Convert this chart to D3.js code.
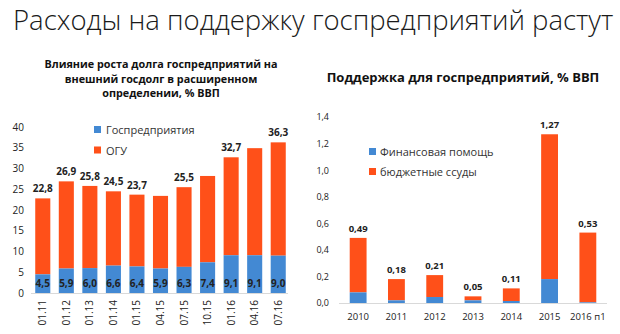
<!DOCTYPE html>
<html>
<head>
<meta charset="utf-8">
<script src="https://cdn.jsdelivr.net/npm/d3@7"></script>
<style>
  html, body { margin: 0; padding: 0; background: #fff; }
  svg { display: block; }
  text { font-family: "Open Sans", "Noto Sans", sans-serif; }
</style>
</head>
<body>
<svg id="chart" width="620" height="334"></svg>
<script>
// Left panel: external debt in the extended definition, % of GDP
const debtDates = ["01.11", "01.12", "01.13", "01.14", "01.15", "04.15", "07.15", "10.15", "01.16", "04.16", "07.16"];
const debtSoe   = [4.5, 5.9, 6.0, 6.6, 6.4, 5.9, 6.3, 7.4, 9.1, 9.1, 9.0];
const debtTotal = [22.8, 26.9, 25.8, 24.5, 23.7, 23.4, 25.5, 28.2, 32.7, 34.9, 36.3];
const debtTotalShown = [true, true, true, true, true, false, true, false, true, false, true];
const debtTicks = [0, 5, 10, 15, 20, 25, 30, 35, 40];

// Right panel: support for state enterprises, % of GDP
const supportYears = ["2010", "2011", "2012", "2013", "2014", "2015", "2016 п1"];
const supportAid   = [0.08, 0.02, 0.045, 0.02, 0.015, 0.18, 0.005];
const supportTotal = [0.49, 0.18, 0.21, 0.05, 0.11, 1.27, 0.53];
const supportTicks = [0, 0.2, 0.4, 0.6, 0.8, 1.0, 1.2, 1.4];

const BLUE = "#4389d3";
const ORANGE = "#ff5019";
const TEXT = "#222";
const fmt1 = d3.format(".1f");
const fmt2 = d3.format(".2f");
const comma = s => s.replace(".", ",");

const svg = d3.select("#chart");

svg.append("text")
  .attr("x", 13).attr("y", 30)
  .attr("font-size", 27.5).attr("font-weight", 300)
  .attr("fill", "#1a1a1a")
  .text("Расходы на поддержку госпредприятий растут");

// ---------- left panel ----------
{
  const x = d3.scaleBand().domain(debtDates).range([31, 290]).paddingInner(0.36).paddingOuter(0.18);
  const y = d3.scaleLinear().domain([0, 40]).range([293, 127]);
  const g = svg.append("g");

  ["Влияние роста долга госпредприятий на", "внешний госдолг в расширенном", "определении, % ВВП"]
    .forEach((t, i) => g.append("text")
      .attr("x", 161).attr("y", 68 + i * 14.5)
      .attr("text-anchor", "middle").attr("font-size", 10.8).attr("font-weight", 700)
      .attr("fill", "#111").text(t));

  const yAxis = d3.axisLeft(y).tickValues(debtTicks).tickSize(0).tickPadding(0).tickFormat(d => d);
  g.append("g").attr("transform", "translate(24,0)").call(yAxis)
    .call(a => a.select(".domain").remove())
    .call(a => a.selectAll("text").attr("font-size", 10).attr("fill", TEXT).attr("font-family", "Open Sans, sans-serif"));

  g.append("line").attr("x1", 31).attr("x2", 288).attr("y1", y(0) + 0.5).attr("y2", y(0) + 0.5)
    .attr("stroke", "#d9d9d9");

  g.selectAll(".ogu").data(debtDates).join("rect")
    .attr("x", d => x(d)).attr("width", x.bandwidth())
    .attr("y", (d, i) => y(debtTotal[i])).attr("height", (d, i) => y(debtSoe[i]) - y(debtTotal[i]))
    .attr("fill", ORANGE);
  g.selectAll(".soe").data(debtDates).join("rect")
    .attr("x", d => x(d)).attr("width", x.bandwidth())
    .attr("y", (d, i) => y(debtSoe[i])).attr("height", (d, i) => y(0) - y(debtSoe[i]))
    .attr("fill", BLUE);

  g.selectAll(".tot").data(debtDates.filter((d, i) => debtTotalShown[i])).join("text")
    .attr("x", d => x(d) + x.bandwidth() / 2)
    .attr("y", d => y(debtTotal[debtDates.indexOf(d)]) - 6)
    .attr("text-anchor", "middle").attr("font-size", 10).attr("font-weight", 700).attr("fill", TEXT)
    .text(d => comma(fmt1(debtTotal[debtDates.indexOf(d)])));

  g.selectAll(".soel").data(debtDates).join("text")
    .attr("x", d => x(d) + x.bandwidth() / 2)
    .attr("y", y(0) - 6)
    .attr("text-anchor", "middle").attr("font-size", 10).attr("font-weight", 700).attr("fill", TEXT)
    .text((d, i) => comma(fmt1(debtSoe[i])));

  g.selectAll(".cat").data(debtDates).join("text")
    .attr("transform", d => `translate(${x(d) + x.bandwidth() / 2 + 3.5},${y(0) + 7}) rotate(-90)`)
    .attr("text-anchor", "end").attr("font-size", 10).attr("fill", TEXT)
    .text(d => d);

  const leg = [["Госпредприятия", BLUE], ["ОГУ", ORANGE]];
  leg.forEach(([t, c], i) => {
    g.append("rect").attr("x", 94).attr("y", 126 + i * 20.5).attr("width", 7).attr("height", 7).attr("fill", c);
    g.append("text").attr("x", 106).attr("y", 134 + i * 20.5).attr("font-size", 11).attr("fill", "#333").text(t);
  });
}

// ---------- right panel ----------
{
  const x = d3.scaleBand().domain(supportYears).range([339, 607]).paddingInner(0.56).paddingOuter(0.28);
  const y = d3.scaleLinear().domain([0, 1.4]).range([303, 117]);
  const g = svg.append("g");

  g.append("text").attr("x", 463).attr("y", 82)
    .attr("text-anchor", "middle").attr("font-size", 13).attr("font-weight", 700)
    .attr("fill", "#111").text("Поддержка для госпредприятий, % ВВП");

  const yAxis = d3.axisLeft(y).tickValues(supportTicks).tickSize(0).tickPadding(0)
    .tickFormat(d => comma(fmt1(d)));
  g.append("g").attr("transform", "translate(329,0)").call(yAxis)
    .call(a => a.select(".domain").remove())
    .call(a => a.selectAll("text").attr("font-size", 9).attr("fill", TEXT).attr("font-family", "Open Sans, sans-serif"));

  g.append("line").attr("x1", 339).attr("x2", 607).attr("y1", y(0) + 0.5).attr("y2", y(0) + 0.5)
    .attr("stroke", "#d9d9d9");

  g.selectAll(".loan").data(supportYears).join("rect")
    .attr("x", d => x(d)).attr("width", x.bandwidth())
    .attr("y", (d, i) => y(supportTotal[i])).attr("height", (d, i) => y(supportAid[i]) - y(supportTotal[i]))
    .attr("fill", ORANGE);
  g.selectAll(".aid").data(supportYears).join("rect")
    .attr("x", d => x(d)).attr("width", x.bandwidth())
    .attr("y", (d, i) => y(supportAid[i])).attr("height", (d, i) => y(0) - y(supportAid[i]))
    .attr("fill", BLUE);

  g.selectAll(".tot").data(supportYears).join("text")
    .attr("x", d => x(d) + x.bandwidth() / 2)
    .attr("y", (d, i) => y(supportTotal[i]) - 6)
    .attr("text-anchor", "middle").attr("font-size", 9.5).attr("font-weight", 700).attr("fill", TEXT)
    .text((d, i) => comma(fmt2(supportTotal[i])));

  g.selectAll(".cat").data(supportYears).join("text")
    .attr("x", d => x(d) + x.bandwidth() / 2).attr("y", 320)
    .attr("text-anchor", "middle").attr("font-size", 9.5).attr("fill", TEXT)
    .text(d => d);

  const leg = [["Финансовая помощь", BLUE], ["бюджетные ссуды", ORANGE]];
  leg.forEach(([t, c], i) => {
    g.append("rect").attr("x", 369).attr("y", 148 + i * 20).attr("width", 7).attr("height", 7).attr("fill", c);
    g.append("text").attr("x", 380).attr("y", 156 + i * 20).attr("font-size", 11).attr("fill", "#333").text(t);
  });
}
</script>
</body>
</html>
